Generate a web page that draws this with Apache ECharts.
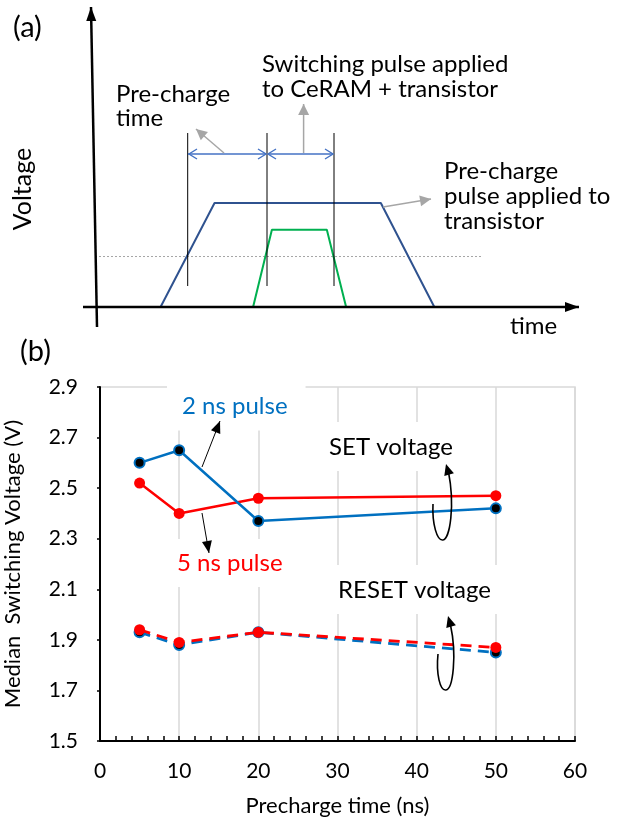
<!DOCTYPE html>
<html>
<head>
<meta charset="utf-8">
<script src="https://cdn.jsdelivr.net/npm/echarts@6/dist/echarts.min.js"></script>
<style>
html,body{margin:0;padding:0;background:#fff;}
#chart{width:619px;height:819px;}
</style>
</head>
<body>
<div id="chart"></div>
<script>
// ---------- Panel (a): schematic pulses (arbitrary units) ----------
var prechargeTime = [13.6, 24.8, 59.3, 70.4];
var prechargeVolt = [0, 35, 35, 0];
var switchTime = [32.8, 36.7, 48.1, 52.1];
var switchVolt = [0, 26, 26, 0];
var thresholdVolt = 17;

// ---------- Panel (b): data ----------
var precharge = [5, 10, 20, 50];
var set2ns = [2.60, 2.65, 2.37, 2.42];
var set5ns = [2.52, 2.40, 2.46, 2.47];
var reset2ns = [1.93, 1.88, 1.93, 1.85];
var reset5ns = [1.94, 1.89, 1.93, 1.87];

function pairs(xs, ys) { return xs.map(function (x, i) { return [x, ys[i]]; }); }

var FONT = 'Lato';
var BLUE = '#0070C0', RED = '#FF0000';

var chart = echarts.init(document.getElementById('chart'));

function arrowHead(tip, from, len, wid, color) {
  var dx = tip[0] - from[0], dy = tip[1] - from[1];
  var d = Math.sqrt(dx * dx + dy * dy); dx /= d; dy /= d;
  var bx = tip[0] - dx * len, by = tip[1] - dy * len;
  return { type: 'polygon', shape: { points: [tip, [bx - dy * wid, by + dx * wid], [bx + dy * wid, by - dx * wid]] },
           style: { fill: color }, z: 40 };
}
function arrowLine(a, b, color, w, len, wid) {
  return [
    { type: 'line', shape: { x1: a[0], y1: a[1], x2: b[0], y2: b[1] }, style: { stroke: color, lineWidth: w }, z: 40 },
    arrowHead(b, a, len, wid, color)
  ];
}
function chevron(tip, dir, color) {
  return { type: 'polyline', shape: { points: [[tip[0] - dir * 8, tip[1] - 5], tip, [tip[0] - dir * 8, tip[1] + 5]] },
           style: { stroke: color, lineWidth: 1.4, fill: null }, z: 40 };
}
function text(x, y, str, size, color, extra) {
  var s = { text: str, fill: color || '#000', fontSize: size, fontFamily: FONT, verticalAlign: 'top', align: 'left' };
  if (extra) for (var k in extra) s[k] = extra[k];
  return { type: 'text', x: x, y: y, style: s, z: 30 };
}
function bez(p) {
  return { type: 'bezierCurve', shape: { x1: p[0], y1: p[1], cpx1: p[2], cpy1: p[3], cpx2: p[4], cpy2: p[5], x2: p[6], y2: p[7] },
           style: { stroke: '#000', lineWidth: 1.6, fill: null }, z: 40 };
}

var g = [];
// Panel (a) axes
g = g.concat(arrowLine([97, 327], [91, 7], '#000', 2.5, 14, 5));
g = g.concat(arrowLine([83, 307], [579, 307], '#000', 2.5, 14, 5));
g.push(text(13, 13, '(a)', 29, '#000'));
g.push({ type: 'text', x: 23, y: 189, rotation: Math.PI / 2,
         style: { text: 'Voltage', fill: '#000', fontSize: 25, fontFamily: FONT, align: 'center', verticalAlign: 'middle' }, z: 30 });
g.push(text(510, 314, 'time', 24, '#000'));
[187.7, 267, 334].forEach(function (x) {
  g.push({ type: 'line', shape: { x1: x, y1: 133, x2: x, y2: 286 }, style: { stroke: '#000', lineWidth: 1 }, z: 15 });
});
var DB = '#4472C4';
g.push({ type: 'line', shape: { x1: 188, y1: 154, x2: 266, y2: 154 }, style: { stroke: DB, lineWidth: 1.3 }, z: 20 });
g.push({ type: 'line', shape: { x1: 268, y1: 154, x2: 333, y2: 154 }, style: { stroke: DB, lineWidth: 1.3 }, z: 20 });
g.push(chevron([189, 154], -1, DB), chevron([266, 154], 1, DB), chevron([268, 154], -1, DB), chevron([333, 154], 1, DB));
var GR = '#A6A6A6';
g = g.concat(arrowLine([224, 153], [196, 129], GR, 1.5, 11, 5.5));
g = g.concat(arrowLine([303.6, 153], [303.6, 104], GR, 1.5, 11, 5.5));
g = g.concat(arrowLine([383, 207], [431, 199], GR, 1.5, 11, 5.5));
g.push(text(116, 82, 'Pre-charge', 24, '#000'));
g.push(text(116, 106.5, 'time', 24, '#000'));
g.push(text(262, 52, 'Switching pulse applied', 24, '#000'));
g.push(text(262, 77, 'to CeRAM + transistor', 24, '#000'));
g.push(text(444, 159, 'Pre-charge', 24, '#000'));
g.push(text(444, 184, 'pulse applied to', 24, '#000'));
g.push(text(444, 209, 'transistor', 24, '#000'));

// Panel (b)
g.push(text(20, 337, '(b)', 29, '#000'));
var bgPad = function (p) { return { backgroundColor: '#fff', padding: p }; };
g.push(text(167, 384.5, '2 ns pulse', 24, BLUE, bgPad([10, 18, 12, 15])));
g.push(text(319, 422, 'SET voltage', 24, '#000', bgPad([13, 10, 12, 10])));
g.push(text(167, 539, '5 ns pulse', 24, RED, bgPad([12, 16, 12, 10])));
g.push(text(326, 565, 'RESET voltage', 24, '#000', bgPad([13, 10, 12, 12])));
g = g.concat(arrowLine([202, 467], [220, 421], '#000', 1, 12, 5));
g = g.concat(arrowLine([202, 513], [209, 553], '#000', 1, 12, 5));
g.push(bez([433, 504, 432, 524, 437, 541, 443, 540]));
g.push(bez([443, 540, 450, 539, 455, 505, 448.5, 472]));
g.push(arrowHead([446, 464], [449.5, 476], 11, 5, '#000'));
g.push(bez([438, 654, 436, 674, 440, 691, 446, 690]));
g.push(bez([446, 690, 453, 689, 457, 655, 450.5, 625]));
g.push(arrowHead([448, 616], [451.5, 628], 11, 5, '#000'));

var option = {
  animation: false,
  backgroundColor: '#fff',
  textStyle: { fontFamily: FONT },
  grid: [
    { left: 95, right: 42, top: 10, bottom: 512, show: false, containLabel: false, outerBoundsMode: 'none' },
    { left: 100, right: 44, top: 387, bottom: 78, show: true, borderColor: '#D9D9D9', borderWidth: 1.5,
      containLabel: false, outerBoundsMode: 'none' }
  ],
  xAxis: [
    { gridIndex: 0, type: 'value', min: 0, max: 100, show: false },
    { gridIndex: 1, type: 'value', min: 0, max: 60, interval: 10,
      name: 'Precharge time (ns)', nameLocation: 'middle', nameGap: 54,
      nameTextStyle: { fontSize: 22, color: '#000', fontFamily: FONT },
      axisLine: { lineStyle: { color: '#000', width: 2 } },
      axisTick: { show: true, inside: true, length: 5, lineStyle: { color: '#000', width: 1.5 } },
      minorTick: { show: true, splitNumber: 5, length: 5, lineStyle: { color: '#000', width: 1.5 } },
      axisLabel: { fontSize: 21, color: '#000', margin: 20, fontFamily: FONT },
      splitLine: { show: true, lineStyle: { color: '#D9D9D9', width: 1.5 } } }
  ],
  yAxis: [
    { gridIndex: 0, type: 'value', min: 0, max: 100, show: false },
    { gridIndex: 1, type: 'value', min: 1.5, max: 2.9, interval: 0.2,
      name: 'Median  Switching Voltage (V)', nameLocation: 'middle', nameGap: 76,
      nameTextStyle: { fontSize: 22, color: '#000', fontFamily: FONT },
      axisLine: { show: true, lineStyle: { color: '#000', width: 2 } },
      axisTick: { show: true, inside: false, length: 3, lineStyle: { color: '#000', width: 1.5 } },
      axisLabel: { fontSize: 21, color: '#000', margin: 22, fontFamily: FONT,
                   formatter: function (v) { return v.toFixed(1); } },
      splitLine: { show: false } }
  ],
  graphic: g,
  series: [
    { type: 'line', xAxisIndex: 0, yAxisIndex: 0, data: pairs([0, 80.5], [thresholdVolt, thresholdVolt]),
      showSymbol: false, lineStyle: { color: '#A6A6A6', width: 1, type: [2, 2] }, z: 1 },
    { type: 'line', xAxisIndex: 0, yAxisIndex: 0, data: pairs(prechargeTime, prechargeVolt),
      showSymbol: false, lineStyle: { color: '#2F528F', width: 2 }, z: 2 },
    { type: 'line', xAxisIndex: 0, yAxisIndex: 0, data: pairs(switchTime, switchVolt),
      showSymbol: false, lineStyle: { color: '#00B050', width: 2 }, z: 2 },

    { name: 'SET 5 ns', type: 'line', xAxisIndex: 1, yAxisIndex: 1, data: pairs(precharge, set5ns),
      symbol: 'circle', symbolSize: 11, lineStyle: { color: RED, width: 2.5 },
      itemStyle: { color: RED }, z: 5 },
    { name: 'SET 2 ns', type: 'line', xAxisIndex: 1, yAxisIndex: 1, data: pairs(precharge, set2ns),
      symbol: 'circle', symbolSize: 10, lineStyle: { color: BLUE, width: 2.5 },
      itemStyle: { color: '#000', borderColor: BLUE, borderWidth: 2 }, z: 6 },
    { name: 'RESET 2 ns', type: 'line', xAxisIndex: 1, yAxisIndex: 1, data: pairs(precharge, reset2ns),
      symbol: 'circle', symbolSize: 10, lineStyle: { color: BLUE, width: 2.8, type: [11, 7] },
      itemStyle: { color: '#000', borderColor: BLUE, borderWidth: 2 }, z: 5 },
    { name: 'RESET 5 ns', type: 'line', xAxisIndex: 1, yAxisIndex: 1, data: pairs(precharge, reset5ns),
      symbol: 'circle', symbolSize: 11, lineStyle: { color: RED, width: 2.8, type: [11, 7] },
      itemStyle: { color: RED }, z: 6 }
  ]
};
chart.setOption(option);
</script>
</body>
</html>
